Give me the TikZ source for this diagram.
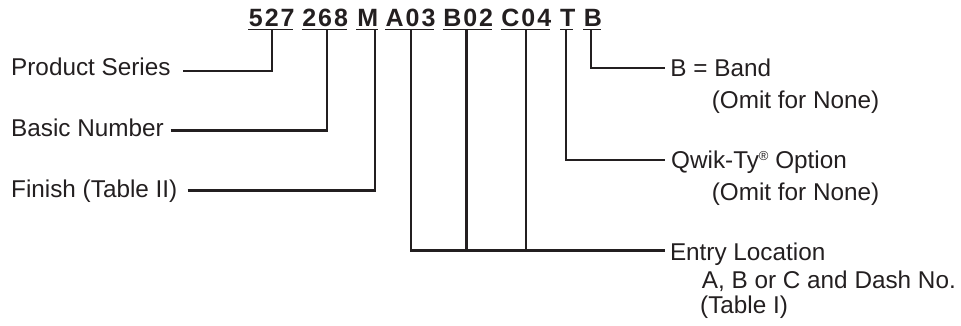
\documentclass[tikz,border=0pt]{standalone}
\usepackage{fontspec}
\setmainfont{Liberation Sans}
\newfontfamily\hdrfont[LetterSpace=8]{Liberation Sans Bold}
\definecolor{ink}{HTML}{231F20}
\begin{document}
\begin{tikzpicture}[x=1pt,y=-1pt,
  lbl/.style={anchor=base west,inner sep=0pt,text=ink,font=\fontsize{24.3}{29}\selectfont},
  hdr/.style={anchor=base,inner sep=0pt,text=ink,font=\hdrfont\fontsize{25}{30}\selectfont},
  conn/.style={draw=ink,line width=2.2pt,line join=miter},
  ul/.style={draw=ink,line width=1.6pt}]
\useasboundingbox (0,0) rectangle (961,326);
% header
\node[hdr] (h527) at (271.8,26.7) {527};
\node[hdr] (h268) at (325.2,26.7) {268};
\node[hdr] (hM)   at (367.8,26.7) {M};
\node[hdr] (hA)   at (410.5,26.7) {A03};
\node[hdr] (hB)   at (468.2,26.7) {B02};
\node[hdr] (hC)   at (526.3,26.7) {C04};
\node[hdr] (hT)   at (567.7,26.7) {T};
\node[hdr] (hBand) at (593.0,26.7) {B};
\draw[ul] (248.3,29.5) -- (293.3,29.5);
\draw[ul] (301.7,29.5) -- (346.7,29.5);
\draw[ul] (356.0,29.5) -- (377.7,29.5);
\draw[ul] (385.0,29.5) -- (434.0,29.5);
\draw[ul] (442.7,29.5) -- (491.7,29.5);
\draw[ul] (500.7,29.5) -- (550.0,29.5);
\draw[ul] (560.0,29.5) -- (573.3,29.5);
\draw[ul] (583.3,29.5) -- (600.7,29.5);
% left labels
\node[lbl] (lPS) at (11,76) {Product Series};
\node[lbl] (lBN) at (11,136) {Basic Number};
\node[lbl] (lFi) at (11,197.3) {Finish (Table II)};
% right labels
\node[lbl] (rB) at (670.2,76.7) {B = Band};
\node[lbl] (rB2) at (711.6,108.7) {(Omit for None)};
\node[lbl] (rQ) at (671,168.3) {Qwik-Ty{\fontsize{13}{13}\selectfont\raisebox{8pt}{®}} Option};
\node[lbl] (rQ2) at (711.6,200) {(Omit for None)};
\node[lbl] (rE) at (669.8,260) {Entry Location};
\node[lbl] (rE2) at (701.7,288) {A, B or C and Dash No.};
\node[lbl] (rE3) at (700,313) {(Table I)};
% tap points
\coordinate (t527) at (271.7,29.5);
\coordinate (t268) at (327,29.5);
\coordinate (tM) at (375,29.5);
\coordinate (tA) at (410.7,29.5);
\coordinate (tB) at (466.5,29.5);
\coordinate (tC) at (526,29.5);
\coordinate (tT) at (565.7,29.5);
\coordinate (tBand) at (591.2,29.5);
% line ends
\coordinate (ePS) at (183,70.7);
\coordinate (eBN) at (170.7,130.5);
\coordinate (eFi) at (187.7,190.5);
\coordinate (eB) at (664.5,67.8);
\coordinate (eQ) at (664.5,160);
\coordinate (eE) at (664.5,250.5);
% connectors
\draw[conn] (ePS) -| (t527);
\draw[conn] (eBN) -| (t268);
\draw[conn] (eFi) -| (tM);
\draw[conn] (tBand) |- (eB);
\draw[conn] (tT) |- (eQ);
\draw[conn] (tA) |- (eE);
\draw[conn] (tB) -- (tB |- eE);
\draw[conn] (tC) -- (tC |- eE);
\end{tikzpicture}
\end{document}
